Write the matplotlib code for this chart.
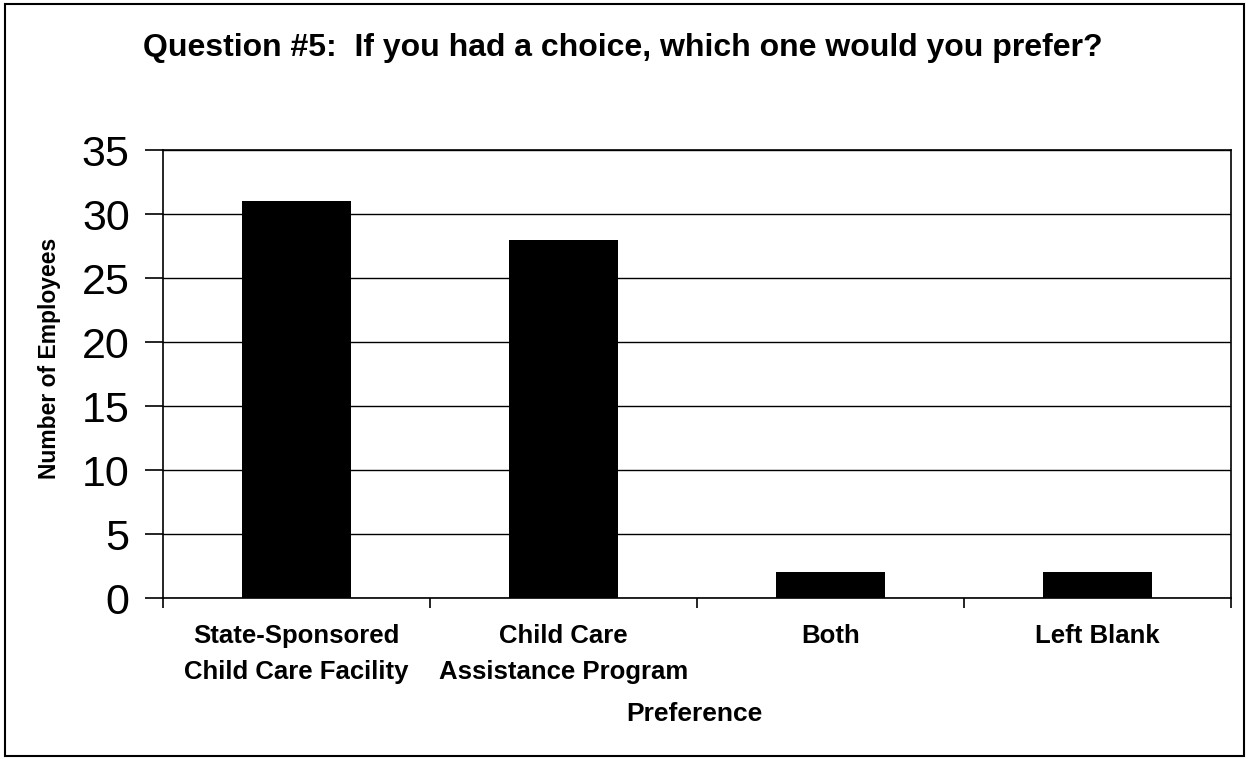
import matplotlib
matplotlib.use("Agg")
import matplotlib.pyplot as plt
from matplotlib.patches import Rectangle

categories = ["State-Sponsored\nChild Care Facility", "Child Care\nAssistance Program", "Both", "Left Blank"]
values = [31, 28, 2, 2]
yticks = [0, 5, 10, 15, 20, 25, 30, 35]

plt.rcParams['font.family'] = ['Liberation Sans', 'DejaVu Sans']

W, H = 1249, 759
fig = plt.figure(figsize=(W/100, H/100), dpi=100)
ax = fig.add_axes([163/W, 1-598/H, (1231-163)/W, (598-150)/H])

x = list(range(len(categories)))
ax.bar(x, values, width=0.41, color='black', zorder=3)
ax.set_xlim(-0.5, len(categories)-0.5)
ax.set_ylim(0, 35)
ax.set_yticks(yticks)
ax.set_yticklabels([str(t) for t in yticks], fontsize=31)
ax.yaxis.grid(True, color='black', linewidth=1.0, zorder=1)
ax.set_axisbelow(True)

ax.set_xticks([i + 0.5 for i in range(-1, len(categories))])
ax.set_xticklabels([])
ax.set_xticks(x, minor=True)
ax.set_xticklabels(categories, minor=True, fontsize=18.5, fontweight='bold', linespacing=1.6)
ax.tick_params(axis='x', which='minor', length=0, pad=19)
ax.tick_params(axis='x', which='major', length=7, width=1.2, direction='out')
ax.tick_params(axis='y', length=13, width=1.2, direction='out', pad=11)

for s in ax.spines.values():
    s.set_linewidth(1.2)
    s.set_color('black')

ax.set_ylabel("Number of Employees", fontsize=16.5, fontweight='bold')
ax.yaxis.set_label_coords((50-163)/(1231-163), (598-358)/(598-150))
ax.yaxis.label.set_va('center')
ax.set_xlabel("Preference", fontsize=19, fontweight='bold')
ax.xaxis.set_label_coords((694-163)/(1231-163), -(714-598)/(598-150))
ax.xaxis.label.set_va('center')

fig.text(623/W, 1-48/H, "Question #5:  If you had a choice, which one would you prefer?",
         ha='center', va='center', fontsize=23, fontweight='bold')

fig.patches.append(Rectangle((5/W, 3/H), (1244-5)/W, (755-3)/H, transform=fig.transFigure,
                             fill=False, edgecolor='black', linewidth=1.5))

fig.savefig("out.png", dpi=100)
